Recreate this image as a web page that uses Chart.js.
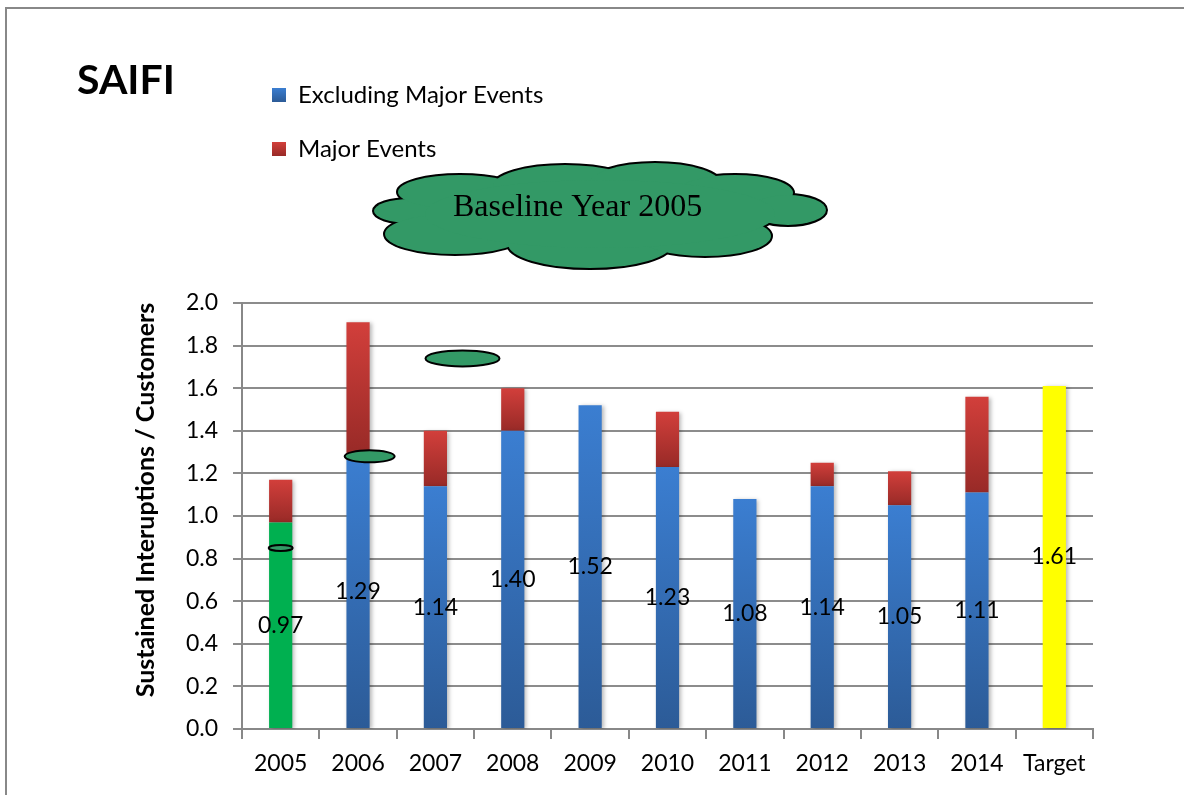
<!DOCTYPE html>
<html>
<head>
<meta charset="utf-8">
<script src="https://cdn.jsdelivr.net/npm/chart.js@4.4.0/dist/chart.umd.min.js"></script>
<style>
  html, body { margin: 0; padding: 0; background: #fff; }
  #wrap { width: 1184px; height: 795px; position: relative; }
</style>
</head>
<body>
<div id="wrap"><canvas id="myChart"></canvas></div>
<script>
const years = ['2005', '2006', '2007', '2008', '2009', '2010', '2011', '2012', '2013', '2014', 'Target'];
const excludingMajor = [0.97, 1.29, 1.14, 1.40, 1.52, 1.23, 1.08, 1.14, 1.05, 1.11, 1.61];
const majorEvents = [0.20, 0.62, 0.26, 0.20, 0, 0.26, 0, 0.11, 0.16, 0.45, 0];
const yMin = 0, yMax = 2.0, yStep = 0.2;

const FONT = 'Lato';

function vGrad(chart, from, to, topColor, bottomColor) {
  const y = chart.scales.y;
  if (!chart.chartArea || !y) return topColor;
  const g = chart.ctx.createLinearGradient(0, y.getPixelForValue(to), 0, y.getPixelForValue(from) + 0.01);
  g.addColorStop(0, topColor);
  g.addColorStop(1, bottomColor);
  return g;
}

function blueFill(c) {
  const i = c.dataIndex;
  if (years[i] === '2005') return '#00b050';
  if (years[i] === 'Target') return '#ffff00';
  return vGrad(c.chart, 0, excludingMajor[i], '#3b7ed1', '#2c5b97');
}

function redFill(c) {
  const i = c.dataIndex;
  return vGrad(c.chart, excludingMajor[i], excludingMajor[i] + majorEvents[i], '#d23f3b', '#982a27');
}

// soft shadow on bars
const barShadow = {
  id: 'barShadow',
  beforeDatasetsDraw(chart) {
    const ctx = chart.ctx;
    ctx.save();
    ctx.shadowColor = 'rgba(0,0,0,0.28)';
    ctx.shadowBlur = 4;
    ctx.shadowOffsetX = 2;
    ctx.shadowOffsetY = 1;
  },
  afterDatasetsDraw(chart) {
    chart.ctx.restore();
  }
};

function drawCloud(ctx, text) {
  const lobes = [
    [410, 211, 36, 12],
    [460, 192, 62, 17],
    [565, 186, 72, 21],
    [655, 184, 66, 21],
    [735, 193, 58, 18],
    [788, 210, 38, 15],
    [455, 234, 70, 20],
    [590, 244, 82, 24],
    [705, 236, 66, 20],
    [600, 214, 175, 34]
  ];
  ctx.save();
  ctx.strokeStyle = '#000';
  ctx.lineWidth = 4;
  lobes.forEach(([x, y, rx, ry]) => {
    ctx.beginPath();
    ctx.ellipse(x, y, rx, ry, 0, 0, Math.PI * 2);
    ctx.stroke();
  });
  ctx.fillStyle = '#339966';
  lobes.forEach(([x, y, rx, ry]) => {
    ctx.beginPath();
    ctx.ellipse(x, y, rx, ry, 0, 0, Math.PI * 2);
    ctx.fill();
  });
  ctx.fillStyle = '#000';
  ctx.font = '32px "Liberation Serif"';
  ctx.textBaseline = 'middle';
  ctx.textAlign = 'left';
  ctx.fillText(text, 453, 208);
  ctx.restore();
}

function drawOval(ctx, x, y, rx, ry) {
  ctx.save();
  ctx.beginPath();
  ctx.ellipse(x, y, rx, ry, 0, 0, Math.PI * 2);
  ctx.fillStyle = '#339966';
  ctx.fill();
  ctx.lineWidth = 2;
  ctx.strokeStyle = '#000';
  ctx.stroke();
  ctx.restore();
}

const decorations = {
  id: 'decorations',
  beforeDraw(chart) {
    const ctx = chart.ctx;
    ctx.save();
    ctx.fillStyle = '#fff';
    ctx.fillRect(0, 0, chart.width, chart.height);
    // frame
    ctx.strokeStyle = '#888';
    ctx.lineWidth = 2;
    ctx.beginPath();
    ctx.moveTo(6, chart.height);
    ctx.lineTo(6, 8);
    ctx.lineTo(chart.width, 8);
    ctx.stroke();
    ctx.restore();
  },
  afterDraw(chart) {
    const ctx = chart.ctx;
    const x = chart.scales.x, y = chart.scales.y;
    ctx.save();
    // title
    ctx.fillStyle = '#000';
    ctx.font = 'bold 41px ' + FONT;
    ctx.textBaseline = 'alphabetic';
    ctx.fillText('SAIFI', 77, 94);

    // y axis title
    ctx.save();
    ctx.translate(146, 500);
    ctx.rotate(-Math.PI / 2);
    ctx.font = 'bold 25px ' + FONT;
    ctx.textAlign = 'center';
    ctx.textBaseline = 'middle';
    ctx.fillText('Sustained Interuptions / Customers', 0, 0);
    ctx.restore();

    // legend
    const items = [
      { label: 'Excluding Major Events', top: '#3b7ed1', bottom: '#2c5b97', y: 95 },
      { label: 'Major Events', top: '#d23f3b', bottom: '#982a27', y: 149 }
    ];
    items.forEach(it => {
      const g = ctx.createLinearGradient(0, it.y - 7, 0, it.y + 7);
      g.addColorStop(0, it.top);
      g.addColorStop(1, it.bottom);
      ctx.fillStyle = g;
      ctx.fillRect(272, it.y - 7, 14, 14);
      ctx.fillStyle = '#000';
      ctx.font = '24px ' + FONT;
      ctx.textBaseline = 'middle';
      ctx.fillText(it.label, 298, it.y);
    });

    drawCloud(ctx, 'Baseline Year 2005');

    // callout ovals
    const step = x.getPixelForValue(1) - x.getPixelForValue(0);
    drawOval(ctx, x.getPixelForValue(2) + step * 0.35, y.getPixelForValue(1.74), 37, 8);
    drawOval(ctx, x.getPixelForValue(1) + step * 0.15, y.getPixelForValue(1.28), 25, 6);
    drawOval(ctx, x.getPixelForValue(0), y.getPixelForValue(0.85), 12, 3);

    // value labels centred in the lower segment
    const meta = chart.getDatasetMeta(0);
    ctx.font = '23px ' + FONT;
    ctx.textAlign = 'center';
    ctx.textBaseline = 'middle';
    ctx.fillStyle = '#000';
    meta.data.forEach((bar, i) => {
      ctx.fillText(excludingMajor[i].toFixed(2), bar.x, (bar.y + bar.base) / 2);
    });
    ctx.restore();
  }
};

const config = {
  type: 'bar',
  data: {
    labels: years,
    datasets: [
      {
        label: 'Excluding Major Events',
        data: excludingMajor,
        backgroundColor: blueFill,
        categoryPercentage: 1,
        barPercentage: 0.3
      },
      {
        label: 'Major Events',
        data: majorEvents,
        backgroundColor: redFill,
        categoryPercentage: 1,
        barPercentage: 0.3
      }
    ]
  },
  options: {
    responsive: true,
    maintainAspectRatio: false,
    animation: false,
    layout: { padding: { left: 0, top: 303, right: 91, bottom: 0 } },
    plugins: {
      legend: { display: false },
      tooltip: { enabled: false }
    },
    scales: {
      x: {
        stacked: true,
        grid: { drawOnChartArea: false, color: '#888', lineWidth: 2, tickLength: 10 },
        border: { color: '#888', width: 2 },
        ticks: { color: '#000', font: { family: FONT, size: 23 }, padding: 11 },
        afterFit(s) { s.height = 66; }
      },
      y: {
        stacked: true,
        min: yMin,
        max: yMax,
        grid: { color: '#8c8c8c', lineWidth: 2, tickLength: 9 },
        border: { color: '#888', width: 2 },
        ticks: {
          stepSize: yStep,
          color: '#000',
          font: { family: FONT, size: 23 },
          padding: 15,
          callback: v => v.toFixed(1)
        },
        afterFit(s) { s.width = 242; }
      }
    }
  },
  plugins: [decorations, barShadow]
};

var myChart = new Chart(document.getElementById('myChart'), config);
</script>
</body>
</html>
